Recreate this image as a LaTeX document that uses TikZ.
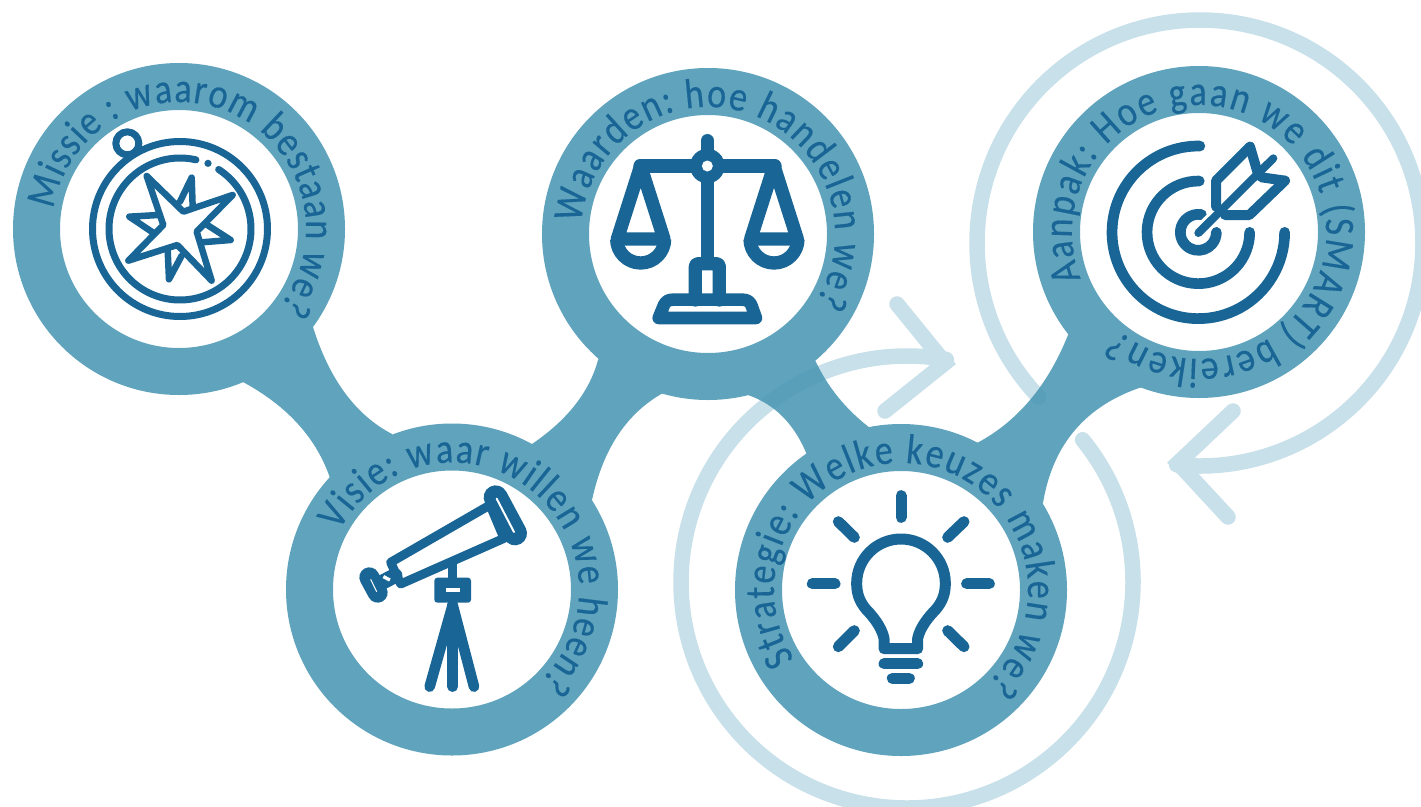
\documentclass[tikz,border=0pt]{standalone}
\usepackage{fontspec}
\usetikzlibrary{decorations.text,backgrounds,calc}
\newfontfamily\ringfont[FakeBold=0.35,FakeStretch=0.86]{Carlito}
\definecolor{band}{HTML}{60A3BC}
\definecolor{linkfill}{HTML}{4E99B5}
\definecolor{iconblue}{HTML}{186596}
\definecolor{pale}{HTML}{C8E0EA}
\tikzset{
  ring/.style={circle,draw=band,line width=47pt,fill=white,minimum size=285pt,inner sep=0pt,outer sep=0pt},
  link/.style={fill=linkfill,fill opacity=0.9},
  loopline/.style={draw=pale,line width=15.5pt,line cap=round},
  arrowline/.style={draw=pale,line width=15.5pt,line cap=round,line join=miter,miter limit=10},
  icon/.style={draw=iconblue,line cap=round,line join=round},
  zoomed/.style={x=0.33333pt,y=-0.33333pt}
}
\newcommand\curvedlabel[5]{\path[decorate,decoration={text along path,text={|\fontsize{#5}{#5}\ringfont|#4},text color=iconblue,text align={fit to path}}] (#1.center) ++(#2:127pt) arc[start angle=#2,end angle=#3,radius=127pt];}
\newcommand\bend[3]{.. controls ($(#1)!0.667!(#2)$) and ($(#3)!0.667!(#2)$) .. (#3)}
\begin{document}
\begin{tikzpicture}[x=1pt,y=-1pt]
\useasboundingbox (0,0) rectangle (1421,806);

\node[ring] (missie) at (179,229) {};
\node[ring] (waarden) at (708,234) {};
\node[ring] (aanpak) at (1199,232) {};
\node[ring] (visie) at (452,589.5) {};
\node[ring] (strategie) at (901,590) {};

\coordinate (m1) at (313,327);
\coordinate (m2) at (243,382);
\coordinate (v1) at (392,434);
\coordinate (v2) at (330,478);
\coordinate (v3) at (532,444);
\coordinate (v4) at (592,500);
\coordinate (w1) at (598,360);
\coordinate (w2) at (663,393);
\coordinate (w3) at (815,360);
\coordinate (w4) at (748,395);
\coordinate (s1) at (870,428);
\coordinate (s2) at (807,455);
\coordinate (s3) at (977,443);
\coordinate (s4) at (1043,503);
\coordinate (a1) at (1068,335);
\coordinate (a2) at (1142,387);
\coordinate (loopa) at (907,582);
\coordinate (loopb) at (1200,243);
\coordinate (tipa) at (945,363);
\coordinate (tipb) at (1178,463);

\begin{pgfonlayer}{background}
  \fill[white] (0,0) rectangle (1421,806);
  \draw[loopline] (loopa) ++(39:226pt) arc[start angle=39,end angle=-280,radius=226pt];
  \draw[arrowline] (897,304) -- (tipa) -- (885,411);
  \draw[loopline] (loopb) ++(223.7:223pt) arc[start angle=223.7,end angle=-96,radius=223pt];
  \draw[arrowline] (1233,411) -- (tipb) -- (1228,517);
  \fill[link] (missie.center) -- (m1) \bend{m1}{337.5,405.5}{v1} -- (visie.center) -- (v2) \bend{v2}{309.5,418}{m2} -- cycle;
  \fill[link] (visie.center) -- (v3) \bend{v3}{585,408}{w1} -- (waarden.center) -- (w2) \bend{w2}{608.5,423.5}{v4} -- cycle;
  \fill[link] (waarden.center) -- (w3) \bend{w3}{833.5,400}{s1} -- (strategie.center) -- (s2) \bend{s2}{788.5,409}{w4} -- cycle;
  \fill[link] (strategie.center) -- (s3) \bend{s3}{1037.5,411}{a1} -- (aanpak.center) -- (a2) \bend{a2}{1057.5,415}{s4} -- cycle;
\end{pgfonlayer}

\curvedlabel{missie}{171}{-37.5}{Missie : waarom bestaan we?}{42pt}
\curvedlabel{waarden}{175}{-32}{Waarden: hoe handelen we?}{42pt}
\curvedlabel{visie}{152.6}{-46}{Visie: waar willen we heen?}{42pt}
\curvedlabel{strategie}{213}{-47}{Strategie: Welke keuzes maken we?}{42pt}
\curvedlabel{aanpak}{201.6}{-129.4}{Aanpak: Hoe gaan we dit (SMART) bereiken?}{42pt}

% compass
\begin{scope}[zoomed,shift={(0pt,-50pt)}]
  \draw[icon,line width=7pt] (382,280) circle[radius=11.5pt];
  \draw[icon,line width=7pt] (540,537) circle[radius=87.5pt];
  \draw[icon,line width=7pt] (540,537) ++(57:71pt) arc[start angle=57,end angle=-283,radius=71pt];
  \fill[iconblue] (624,340) circle[radius=3.6pt];
  \draw[icon,line width=6.5pt] (440,378) -- (550,485) -- (698,435) -- (590,545) -- (635,692) -- (532,585) -- (385,632) -- (490,525) -- cycle;
  \draw[icon,line width=6.5pt] (540,455) -- (575,383) -- (578,470);
  \draw[icon,line width=6.5pt] (622,525) -- (692,570) -- (605,577);
  \draw[icon,line width=6.5pt] (545,617) -- (507,688) -- (503,600);
  \draw[icon,line width=6.5pt] (458,547) -- (388,500) -- (475,495);
\end{scope}

% scales
\begin{scope}[zoomed,shift={(530pt,-60pt)}]
  \draw[icon,line width=13.3pt] (532,242) -- (532,610);
  \draw[icon,line width=13.3pt] (330,318) -- (735,318);
  \fill[iconblue] (532,318) circle[radius=17.3pt];
  \fill[white] (532,318) circle[radius=5.5pt];
  \draw[icon,line width=13.3pt] (262,537) -- (332,318) -- (402,537) -- cycle;
  \draw[icon,line width=13.3pt] (662,537) -- (732,318) -- (802,537) -- cycle;
  \draw[icon,line width=13.3pt,line cap=butt] (260,537) arc[start angle=180,end angle=360,radius=24pt];
  \draw[icon,line width=13.3pt,line cap=butt] (660,537) arc[start angle=180,end angle=360,radius=24pt];
  \draw[icon,line width=13.3pt,rounded corners=3pt] (496,720) -- (496,611) -- (568,611) -- (568,720);
  \draw[icon,line width=12.6pt] (386,774) -- (402,735) .. controls (408,723) and (416,719) .. (430,719) -- (636,719) .. controls (650,719) and (658,723) .. (664,735) -- (678,774) -- cycle;
\end{scope}

% telescope
\begin{scope}[zoomed,shift={(280pt,-410pt)}]
  \draw[icon,line width=9pt] (518,465) -- (518,515);
  \draw[icon,line width=10.6pt] (518,585) -- (449,830);
  \draw[icon,line width=10.6pt] (518,585) -- (518,830);
  \draw[icon,line width=10.6pt] (518,585) -- (582,830);
  \fill[iconblue,rounded corners=3pt] (463,503) rectangle (573,578);
  \fill[white] (497,533) rectangle (541,547);
  \draw[icon,line width=9pt,fill=white] (332,457) -- (630,285) -- (672,385) -- (362,522) -- cycle;
  \draw[icon,line width=24pt] (647,262) -- (705,370);
  \draw[white,line width=2pt,line cap=round] (650,266) -- (702,366);
  \draw[icon,line width=15pt] (300,520) -- (345,497);
  \fill[white,rotate around={-28:(320,505)}] (309,500) rectangle (331,510);
  \draw[icon,line width=20pt] (268,502) -- (293,548);
  \draw[white,line width=1pt] (272,508) -- (290,545);
\end{scope}

% bulb
\begin{scope}[zoomed,shift={(740pt,-420pt)}]
  \foreach \xa/\ya/\xb/\yb in {483/227/483/292,295/305/343/352,672/305/623/352,217/491/285/491,680/491/748/491,343/632/295/680,623/632/672/680}
    \draw[icon,line width=11pt] (\xa,\ya) -- (\xb,\yb);
  \draw[icon,line width=11pt] (432,686) -- (432,655) .. controls (425,620) and (395,585) .. (380,570) .. controls (358,545) and (350,520) .. (350,490) arc[start angle=180,end angle=0,radius=44.33pt] .. controls (616,520) and (608,545) .. (586,570) .. controls (571,585) and (540,620) .. (533,655) -- (533,686) -- cycle;
  \draw[icon,line width=11pt] (432,731) -- (533,731);
  \draw[icon,line width=11pt] (457,775) -- (508,775);
\end{scope}

% target
\begin{scope}[zoomed,shift={(1030pt,-50pt)}]
  \draw[icon,line width=10.7pt] (505,547) ++(89:86.3pt) arc[start angle=89,end angle=360,radius=86.3pt];
  \draw[icon,line width=10.7pt] (505,547) ++(89:51.3pt) arc[start angle=89,end angle=360,radius=51.3pt];
  \draw[icon,line width=10.7pt] (505,547) ++(80:18pt) arc[start angle=80,end angle=360,radius=18pt];
  \draw[white,line width=14pt,line cap=round] (505,548) -- (590,465);
  \draw[icon,line width=8pt] (505,549) -- (730,325);
  \draw[icon,line width=10pt] (660,290) -- (558,392) -- (558,470);
  \draw[icon,line width=10pt] (660,290) -- (682,365);
  \draw[icon,line width=10pt] (765,392) -- (658,495) -- (585,495);
  \draw[icon,line width=10pt] (765,392) -- (695,382);
\end{scope}
\end{tikzpicture}
\end{document}
